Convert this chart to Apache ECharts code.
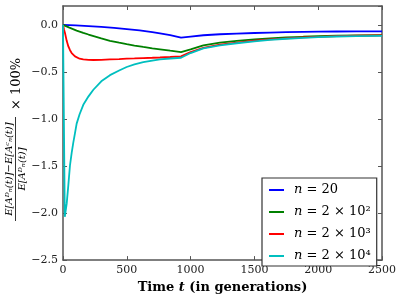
<!DOCTYPE html>
<html><head><meta charset="utf-8">
<script src="https://cdn.jsdelivr.net/npm/echarts@6/dist/echarts.min.js"></script>
<style>html,body{margin:0;padding:0;background:#fff}#c{width:399px;height:299px}</style>
</head><body><div id="c"></div>
<script>
// ---- data ----
const seriesNames = ['n = 20', 'n = 2 × 10²', 'n = 2 × 10³', 'n = 2 × 10⁴'];
const xTicks = [0, 500, 1000, 1500, 2000, 2500];
const yTicks = [-2.5, -2.0, -1.5, -1.0, -0.5, 0.0];

const blueT = [0, 100, 200, 300, 400, 500, 600, 700, 760, 840, 925, 1000, 1100, 1230, 1361, 1500, 1622, 1750, 1883, 2000, 2144, 2300, 2500];
const blueV = [0, -0.006, -0.013, -0.022, -0.032, -0.045, -0.059, -0.077, -0.090, -0.110, -0.137, -0.125, -0.111, -0.100, -0.093, -0.087, -0.082, -0.078, -0.075, -0.073, -0.071, -0.070, -0.070];

const greenT = [0, 50, 107, 159, 200, 300, 368, 440, 499, 560, 629, 700, 760, 840, 925, 1000, 1100, 1230, 1361, 1500, 1622, 1750, 1883, 2000, 2144, 2300, 2500];
const greenV = [0, -0.03, -0.062, -0.085, -0.103, -0.145, -0.17, -0.19, -0.205, -0.22, -0.235, -0.25, -0.26, -0.275, -0.29, -0.262, -0.218, -0.19, -0.171, -0.155, -0.144, -0.134, -0.127, -0.121, -0.115, -0.112, -0.110];

const redT = [0, 8, 16, 29, 42, 55, 68, 81, 94, 107, 130, 159, 200, 238, 300, 368, 440, 499, 560, 629, 700, 760, 840, 925, 1000, 1100, 1230, 1361, 1500, 1622, 1750, 1883, 2000, 2144, 2300, 2500];
const redV = [0, -0.05, -0.09, -0.17, -0.23, -0.27, -0.30, -0.32, -0.335, -0.347, -0.36, -0.368, -0.373, -0.374, -0.372, -0.368, -0.364, -0.36, -0.357, -0.353, -0.35, -0.347, -0.342, -0.336, -0.29, -0.244, -0.21, -0.19, -0.168, -0.154, -0.143, -0.134, -0.128, -0.120, -0.116, -0.113];

const cyanT = [0, 14, 29, 42, 55, 68, 81, 94, 107, 130, 159, 200, 238, 300, 368, 440, 499, 560, 629, 700, 760, 840, 925, 1000, 1100, 1230, 1361, 1500, 1622, 1750, 1883, 2000, 2144, 2300, 2500];
const cyanV = [0, -2.04, -1.90, -1.70, -1.49, -1.36, -1.25, -1.15, -1.05, -0.95, -0.85, -0.76, -0.69, -0.60, -0.535, -0.485, -0.448, -0.42, -0.397, -0.38, -0.368, -0.358, -0.35, -0.30, -0.25, -0.218, -0.196, -0.175, -0.16, -0.148, -0.138, -0.131, -0.124, -0.120, -0.117];

const colors = ['#0000ff', '#008000', '#ff0000', '#00bfbf'];
// ---------------
const pairs = (t, v) => t.map((x, i) => [x, v[i]]);
const allData = [pairs(blueT, blueV), pairs(greenT, greenV), pairs(redT, redV), pairs(cyanT, cyanV)];

const SERIF = '"DejaVu Serif", "Liberation Serif", serif';
const frame = { show: true, onZero: false, lineStyle: { color: '#555', width: 1.5 } };
const tickIn = { show: true, inside: true, length: 4, lineStyle: { color: '#555', width: 1 } };
const fmtNum = v => (Math.abs(v) < 1e-9 ? '0.0' : v.toFixed(1).replace('-', '\u2212'));

const chart = echarts.init(document.getElementById('c'), null, { renderer: 'canvas' });
chart.setOption({
  animation: false,
  backgroundColor: '#fff',
  grid: { left: 63, right: 17, top: 6, bottom: 31, containLabel: false },
  xAxis: [{
    type: 'value', min: xTicks[0], max: xTicks[xTicks.length - 1], interval: 500,
    axisLine: frame, axisTick: tickIn, splitLine: { show: false },
    axisLabel: { fontFamily: SERIF, fontSize: 11, color: '#222', margin: 5, formatter: v => String(v) },
    name: '{b|Time }{bi|t}{b| (in generations)}', nameLocation: 'middle', nameGap: 18,
    nameTextStyle: { rich: {
      b: { fontFamily: SERIF, fontWeight: 'bold', fontSize: 13, color: '#000' },
      bi: { fontFamily: SERIF, fontWeight: 'bold', fontStyle: 'italic', fontSize: 13, color: '#000' } } }
  }, {
    type: 'value', position: 'top', min: xTicks[0], max: xTicks[xTicks.length - 1], interval: 500,
    axisLine: frame, axisTick: tickIn, axisLabel: { show: false }, splitLine: { show: false }
  }],
  yAxis: [{
    type: 'value', min: yTicks[0], max: 0.2, interval: 0.5,
    axisLine: frame, axisTick: tickIn, splitLine: { show: false },
    axisLabel: { fontFamily: SERIF, fontSize: 11, color: '#222', margin: 5, showMaxLabel: false, formatter: fmtNum }
  }, {
    type: 'value', position: 'right', min: yTicks[0], max: 0.2, interval: 0.5,
    axisLine: frame, axisTick: tickIn, axisLabel: { show: false }, splitLine: { show: false }
  }],
  legend: {
    left: 262, top: 178, orient: 'vertical', itemGap: 8,
    itemWidth: 15, itemHeight: 2, icon: 'rect',
    backgroundColor: '#fff', borderColor: '#333', borderWidth: 1.2, borderRadius: 0,
    padding: [5, 6, 3, 7],
    data: seriesNames,
    formatter: name => name.replace(/^n/, '{i|n}'),
    textStyle: { fontFamily: SERIF, fontSize: 13, color: '#000', padding: [0, 0, 0, 5], lineHeight: 14,
      rich: { i: { fontFamily: SERIF, fontStyle: 'italic', fontSize: 13, color: '#000' } } }
  },
  series: seriesNames.map((n, i) => ({
    name: n, type: 'line', data: allData[i], symbol: 'none', showSymbol: false,
    lineStyle: { color: colors[i], width: 1.8 }, itemStyle: { color: colors[i] }, z: 2 + i
  })),
  graphic: [{
    type: 'group', x: 15.5, y: 169, rotation: Math.PI / 2,
    children: [
      { type: 'text', x: 0, y: -1, style: { text: 'E[A\u1D30\u2099(t)]\u2212E[A\u1D9C\u2099(t)]', font: 'italic 10px ' + SERIF, align: 'center', verticalAlign: 'bottom', fill: '#000' } },
      { type: 'line', shape: { x1: -52, y1: 0, x2: 52, y2: 0 }, style: { stroke: '#000', lineWidth: 0.8 } },
      { type: 'text', x: 0, y: 2, style: { text: 'E[A\u1D30\u2099(t)]', font: 'italic 10px ' + SERIF, align: 'center', verticalAlign: 'top', fill: '#000' } },
      { type: 'text', x: 59, y: 1, style: { text: '\u00D7 100%', font: '13px ' + SERIF, align: 'left', verticalAlign: 'middle', fill: '#000' } }
    ]
  }]
});
</script></body></html>
